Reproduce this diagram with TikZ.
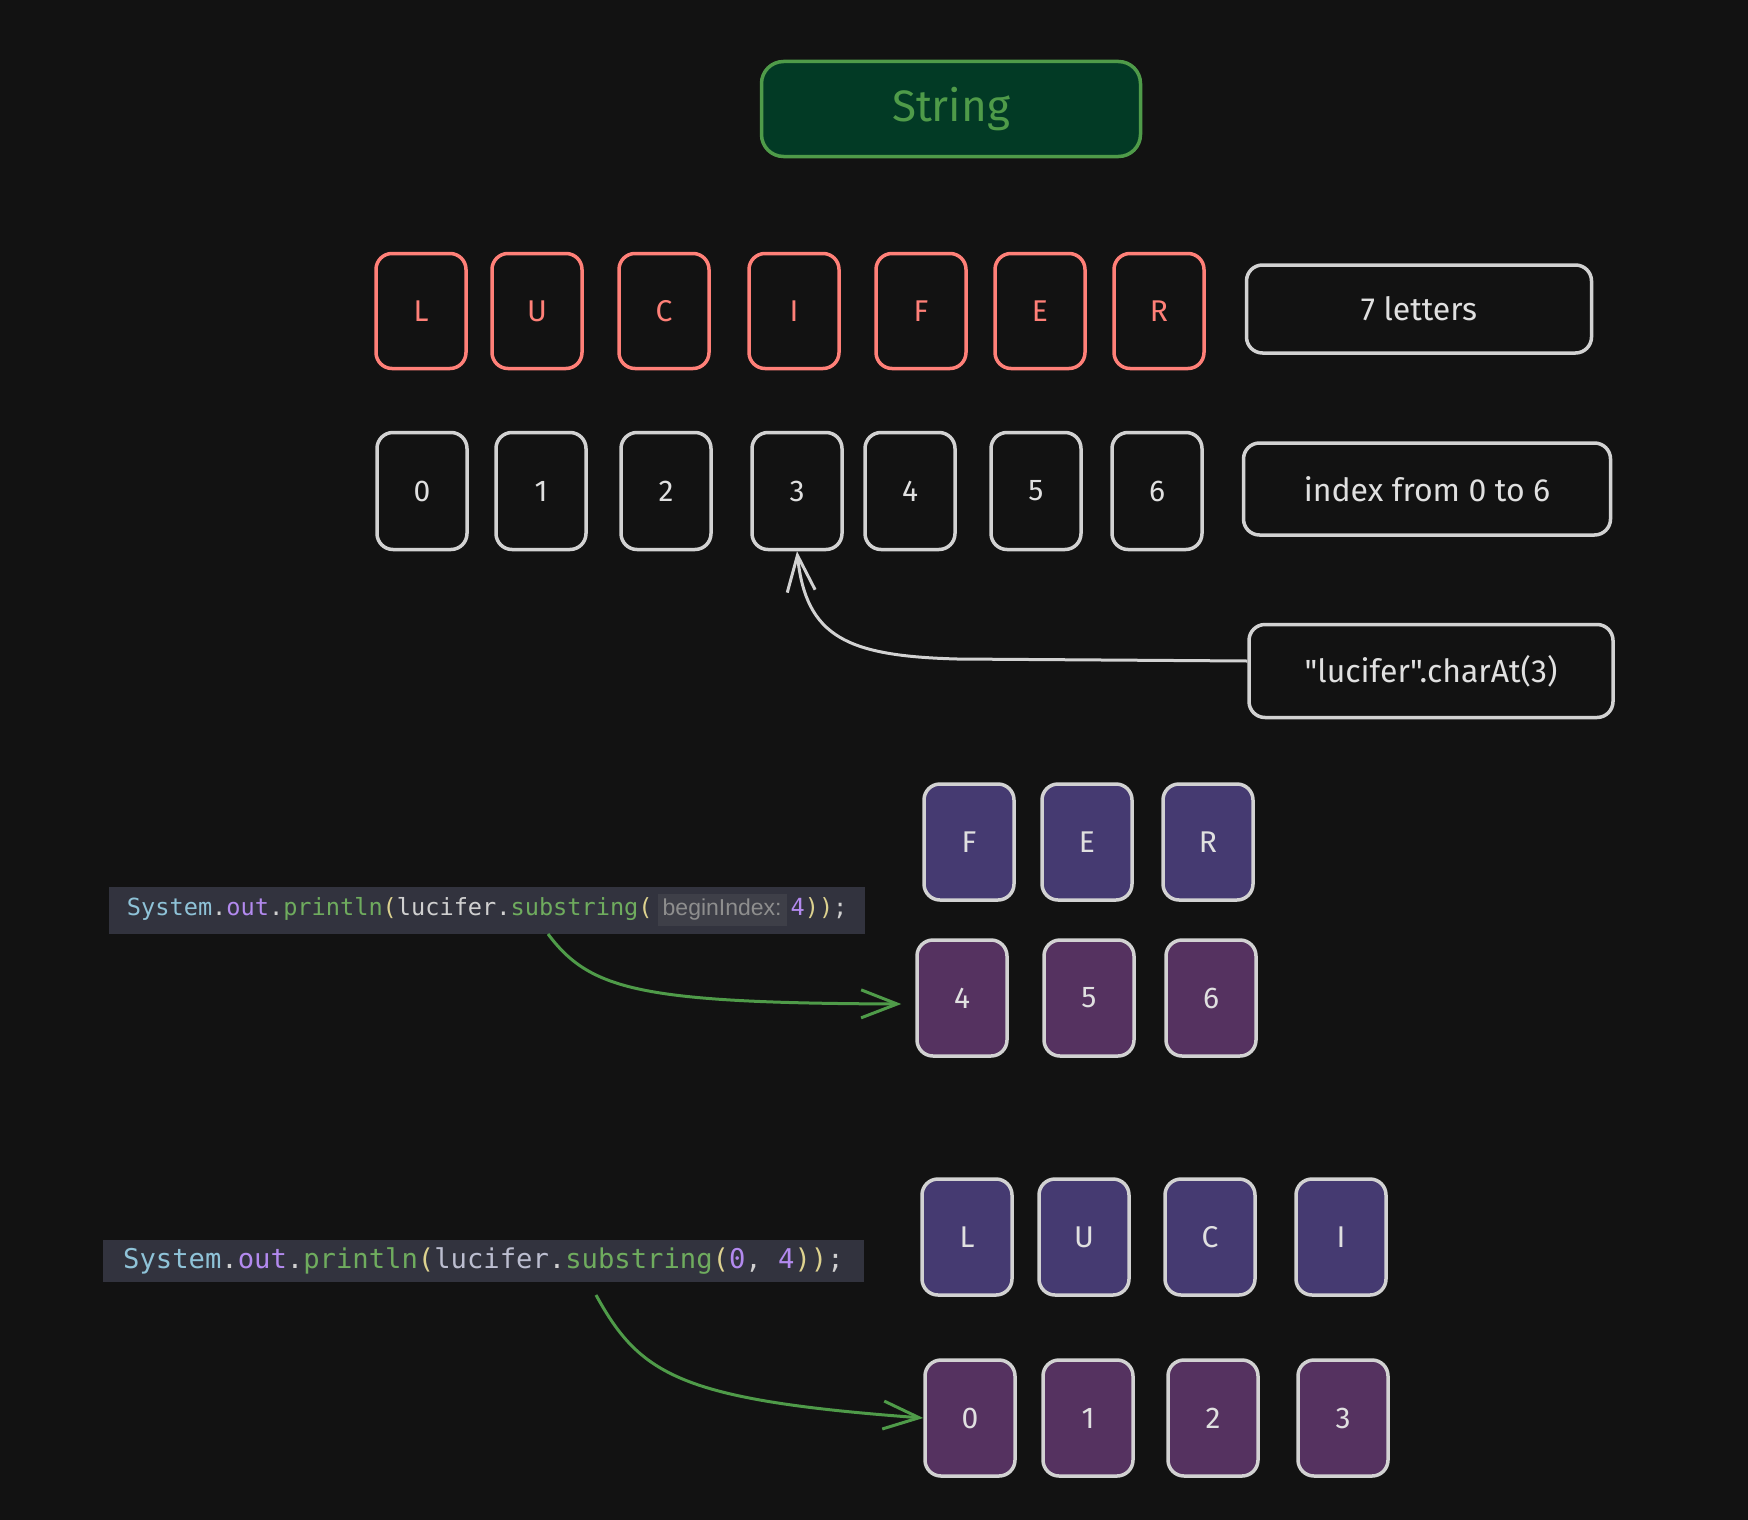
\documentclass[tikz,border=0pt]{standalone}
\usepackage{fontspec}
\setmainfont{Fira Sans}[Ligatures=TeXOff]
\newfontfamily\codefont{DejaVu Sans Mono}
\newfontfamily\hintfont{Liberation Sans}
\usetikzlibrary{arrows.meta}

\definecolor{bgcol}{HTML}{121212}
\definecolor{redline}{HTML}{FF8078}
\definecolor{grayline}{HTML}{D2D2D2}
\definecolor{greenline}{HTML}{4F9B49}
\definecolor{greenfill}{HTML}{023A25}
\definecolor{upperfill}{HTML}{453A71}
\definecolor{lowerfill}{HTML}{553260}
\definecolor{codebg}{HTML}{32333E}
\definecolor{hintbg}{HTML}{3E3F48}
\definecolor{hinttext}{HTML}{8E8E8E}
\definecolor{csys}{HTML}{8FC3D8}
\definecolor{cout}{HTML}{B38AEF}
\definecolor{cfun}{HTML}{6FAC5E}
\definecolor{cpar}{HTML}{DDD28F}
\definecolor{cvar}{HTML}{BCBED0}
\definecolor{cdot}{HTML}{D0D0D0}

\tikzset{
	sketchbox/.style={rounded corners=16pt, line width=3.5pt, text=white!88!black, font=\fontsize{30}{36}\selectfont},
	letterbox/.style={sketchbox, draw=redline, text=redline, minimum width=90pt, minimum height=115pt},
	idxbox/.style={sketchbox, draw=grayline, minimum width=90pt, minimum height=117pt},
	subletter/.style={idxbox, fill=upperfill, minimum height=116pt},
	subidx/.style={idxbox, fill=lowerfill, minimum height=116pt},
	labelbox/.style={sketchbox, draw=grayline, minimum height=90pt, font=\fontsize{32}{38}\selectfont},
	codeline/.style={fill=codebg, inner ysep=0pt, anchor=west, text=cdot},
	sketcharrow/.style={line width=3pt, -{Straight Barb[length=36pt, width=28pt, line width=3pt]}}
}

\begin{document}
\begin{tikzpicture}[x=1pt, y=-1pt]
	\fill[bgcol] (0,0) rectangle (1748,1520);
	\useasboundingbox (0,0) rectangle (1748,1520);

	% title
	\node [sketchbox, draw=greenline, fill=greenfill, text=greenline, minimum width=379pt, minimum height=95pt, rounded corners=22pt, font=\fontsize{44}{52}\selectfont] (title) at (951,109) {String};

	% letters and their indexes
	\foreach \x/\t/\n in {421/L/l1, 537/U/l2, 664/C/l3, 794/I/l4, 921/F/l5, 1040/E/l6, 1159/R/l7}
		\node [letterbox] (\n) at (\x,311) {\t};
	\foreach \x/\t in {422/0, 541/1, 666/2, 797/3, 910/4, 1036/5, 1157/6}
		\node [idxbox] (i\t) at (\x,491) {\t};

	\node [labelbox, minimum width=345pt, minimum height=88pt] (count) at (1419,309) {7 letters};
	\node [labelbox, minimum width=367pt, minimum height=92pt] (range) at (1427,489) {index from 0 to 6};
	\node [labelbox, minimum width=364pt, minimum height=93pt] (ch) at (1431,671) {"lucifer".charAt(3)};

	\draw [sketcharrow, grayline] ([yshift=10pt]ch.west) -- ++(-290,-2) .. controls +(-110,-3) and +(9,86) .. (i3.south);

	% substring(4)
	\node [codeline, minimum height=47pt, minimum width=756pt, inner xsep=11pt, font=\codefont\fontsize{23.6}{28}\selectfont] (code1) at (109,910) {%
		\textcolor{csys}{System}.\textcolor{cout}{out}.\textcolor{cfun}{println}\textcolor{cpar}{(}lucifer.\textcolor{cfun}{substring}\textcolor{cpar}{(}\hspace{5pt}{\fboxsep=5pt\colorbox{hintbg}{\hintfont\fontsize{23}{26}\selectfont\textcolor{hinttext}{beginIndex:}}}\hspace{4pt}\textcolor{cout}{4}\textcolor{cpar}{))};};
	\foreach \x/\t/\n in {969/F/u5, 1087/E/u6, 1208/R/u7}
		\node [subletter] (\n) at (\x,842) {\t};
	\foreach \x/\t in {962/4, 1089/5, 1211/6}
		\node [subidx] (d\t) at (\x,998) {\t};

	\coordinate (g1) at (548,934);
	\draw [sketcharrow, greenline] (g1) .. controls (590,990) and (640,1003) .. ([xshift=-14pt, yshift=-6pt]d4.west);

	% substring(0, 4)
	\node [codeline, minimum height=42pt, inner xsep=20pt, font=\codefont\fontsize{27.2}{32}\selectfont] (code2) at (103,1261) {%
		\textcolor{csys}{System}.\textcolor{cout}{out}.\textcolor{cfun}{println}\textcolor{cpar}{(}\textcolor{cvar}{lucifer}.\textcolor{cfun}{substring}\textcolor{cpar}{(}\textcolor{cout}{0}, \textcolor{cout}{4}\textcolor{cpar}{))};};
	\foreach \x/\t/\n in {967/L/v1, 1084/U/v2, 1210/C/v3, 1341/I/v4}
		\node [subletter] (\n) at (\x,1237) {\t};
	\foreach \x/\t in {970/0, 1088/1, 1213/2, 1343/3}
		\node [subidx] (z\t) at (\x,1418) {\t};

	\coordinate (g2) at (596,1295);
	\draw [sketcharrow, greenline] (g2) .. controls (640,1375) and (680,1400) .. (z0.west);
\end{tikzpicture}
\end{document}
